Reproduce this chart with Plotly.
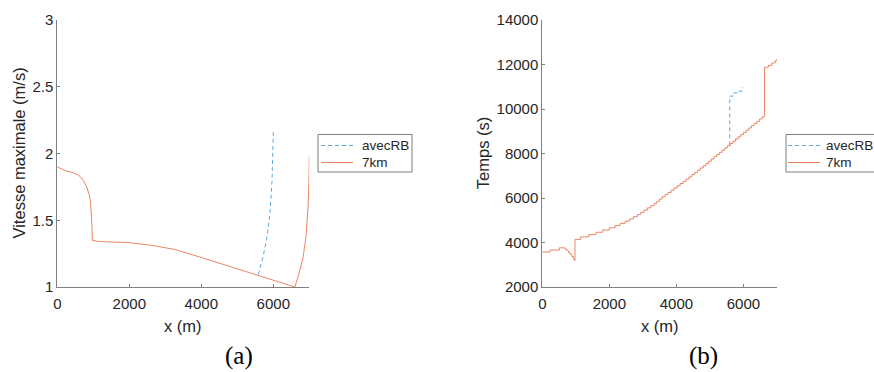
import plotly.graph_objects as go

# ---------------- Panel (a): Vitesse maximale ----------------
a_x_7km = [0, 210, 400, 585, 720, 815, 890, 925, 955, 975, 1140, 2000, 2620, 2950, 3250,
           4000, 5000, 5580, 6000, 6600, 6690, 6820, 6910, 6965, 6990, 7000]
a_v_7km = [1.90, 1.872, 1.86, 1.84, 1.80, 1.75, 1.69, 1.63, 1.50, 1.35, 1.341, 1.332, 1.312, 1.299, 1.282,
           1.221, 1.138, 1.09, 1.054, 1.0, 1.08, 1.21, 1.38, 1.60, 1.80, 1.98]
a_x_rb = [5583, 5720, 5830, 5910, 5965, 6000]
a_v_rb = [1.093, 1.232, 1.381, 1.555, 1.80, 2.16]

# ---------------- Panel (b): Temps ----------------
b_x_7km = [0, 230, 510, 630, 680, 730, 780, 830, 880, 930, 955, 975, 1146, 1385, 1603, 1803, 2000,
           2170, 2320, 2469, 2597, 2716, 2836, 2937, 3036, 3134, 3236, 3334, 3415,
           3493, 3573, 3663, 3750, 3840, 3930, 4020, 4110, 4200, 4290, 4375, 4460,
           4545, 4630, 4715, 4800, 4880, 4960, 5040, 5120, 5200, 5280, 5360, 5440,
           5520, 5600, 5680, 5760, 5840, 5920, 6000, 6080, 6160, 6240, 6320, 6400,
           6480, 6560, 6627, 6630, 6746, 6848, 6946, 7000]
b_t_7km = [3570, 3660, 3760, 3760, 3700, 3640, 3550, 3460, 3370, 3270, 3195, 4140, 4250, 4355, 4460, 4565, 4660,
           4760, 4860, 4955, 5060, 5160, 5255, 5355, 5460, 5555, 5655, 5760, 5850,
           5955, 6060, 6150, 6250, 6350, 6450, 6550, 6650, 6750, 6850, 6950, 7050,
           7150, 7250, 7350, 7450, 7550, 7650, 7750, 7850, 7950, 8050, 8150, 8250,
           8350, 8450, 8550, 8650, 8750, 8850, 8950, 9050, 9150, 9250, 9350, 9450,
           9550, 9650, 9700, 11880, 11960, 12070, 12170, 12250]
b_x_rb = [5580, 5590, 5700, 5850, 5960, 5985]
b_t_rb = [8380, 10580, 10720, 10800, 10950, 10950]

x_ticks = [0, 2000, 4000, 6000]
x_labels = ["0", "2000", "4000", "6000"]
a_y_ticks = [1, 1.5, 2, 2.5, 3]
a_y_labels = ["1", "1.5", "2", "2.5", "3"]
b_y_ticks = [2000, 4000, 6000, 8000, 10000, 12000, 14000]
b_y_labels = ["2000", "4000", "6000", "8000", "10000", "12000", "14000"]

series_names = ["avecRB", "7km"]
blue = "#5ea8de"
orange = "#ec8462"
blue_dash = "4px,3px"

W, H = 874, 372
def px(xp):
    return xp / W
def py(yp):
    return 1 - yp / H

fig = go.Figure()
fig.add_trace(go.Scatter(x=a_x_rb, y=a_v_rb, mode="lines", name=series_names[0],
                         line=dict(color=blue, width=1, dash=blue_dash),
                         xaxis="x", yaxis="y"))
fig.add_trace(go.Scatter(x=a_x_7km, y=a_v_7km, mode="lines", name=series_names[1],
                         line=dict(color=orange, width=1),
                         xaxis="x", yaxis="y"))
fig.add_trace(go.Scatter(x=b_x_rb, y=b_t_rb, mode="lines", name=series_names[0],
                         line=dict(color=blue, width=1, dash=blue_dash, shape="hv"),
                         xaxis="x2", yaxis="y2"))
fig.add_trace(go.Scatter(x=b_x_7km, y=b_t_7km, mode="lines", name=series_names[1],
                         line=dict(color=orange, width=1, shape="hv"),
                         xaxis="x2", yaxis="y2"))

axis_color = "#7f7f7f"
sans = "Liberation Sans"
text_color = "#262626"
tick_font = dict(family=sans, size=15, color=text_color)
common = dict(showline=True, linecolor=axis_color, linewidth=1, ticks="inside",
              ticklen=3, tickcolor=axis_color, showgrid=False, zeroline=False,
              tickfont=tick_font, mirror=False, automargin=False)

fig.update_layout(
    width=W, height=H, margin=dict(l=0, r=0, t=0, b=0),
    paper_bgcolor="white", plot_bgcolor="white", showlegend=False,
    xaxis=dict(domain=[px(57.3), px(309.3)], range=[0, 7000], tickvals=x_ticks,
               ticktext=x_labels, anchor="y", ticklabelstandoff=3, **common),
    yaxis=dict(domain=[py(287), py(20)], range=[1, 3], tickvals=a_y_ticks,
               ticktext=a_y_labels, anchor="x", **common),
    xaxis2=dict(domain=[px(542.3), px(777)], range=[0, 7000], tickvals=x_ticks,
                ticktext=x_labels, anchor="y2", ticklabelstandoff=3, **common),
    yaxis2=dict(domain=[py(287), py(20)], range=[2000, 14000], tickvals=b_y_ticks,
                ticktext=b_y_labels, anchor="x2", **common),
)

# Legend boxes (one per panel), drawn as a bordered box with line samples and labels
legend_boxes = [(318, 412), (786, 890)]
for (lx0, lx1) in legend_boxes:
    fig.add_shape(type="rect", xref="paper", yref="paper",
                  x0=px(lx0), x1=px(lx1), y0=py(172), y1=py(134.5),
                  line=dict(color=axis_color, width=1), fillcolor="white", layer="above")
legend_rows = [(145.5, blue, blue_dash, series_names[0]), (162.5, orange, "solid", series_names[1])]
for (lx0, _), (s0, s1, tx) in zip(legend_boxes, [(321, 353, 361), (788, 820, 825)]):
    for (ry, col, dash, name) in legend_rows:
        fig.add_shape(type="line", xref="paper", yref="paper",
                      x0=px(s0), x1=px(s1), y0=py(ry), y1=py(ry),
                      line=dict(color=col, width=1, dash=dash), layer="above")
        fig.add_annotation(xref="paper", yref="paper", showarrow=False,
                           x=px(tx - 1), y=py(ry), xanchor="left", yanchor="middle",
                           text=name, font=dict(family=sans, size=13.5, color=text_color))

title_font = dict(family=sans, size=16.5, color=text_color)
cap_font = dict(family="Liberation Serif", size=25, color="#000000")
annotations = [
    dict(text="Vitesse maximale (m/s)", x=px(18), y=py(153.5), textangle=-90, font=title_font),
    dict(text="x (m)", x=px(183), y=py(326), font=title_font),
    dict(text="Temps (s)", x=px(482.7), y=py(153.5), textangle=-90, font=title_font),
    dict(text="x (m)", x=px(660), y=py(326), font=title_font),
    dict(text="(a)", x=px(238.7), y=py(355.7), font=cap_font),
    dict(text="(b)", x=px(703), y=py(355.7), font=cap_font),
]
for a in annotations:
    fig.add_annotation(xref="paper", yref="paper", showarrow=False,
                       xanchor="center", yanchor="middle", **a)

fig.write_html("out.html", config={"displayModeBar": False},
               post_script="document.body.style.margin='0px';")
